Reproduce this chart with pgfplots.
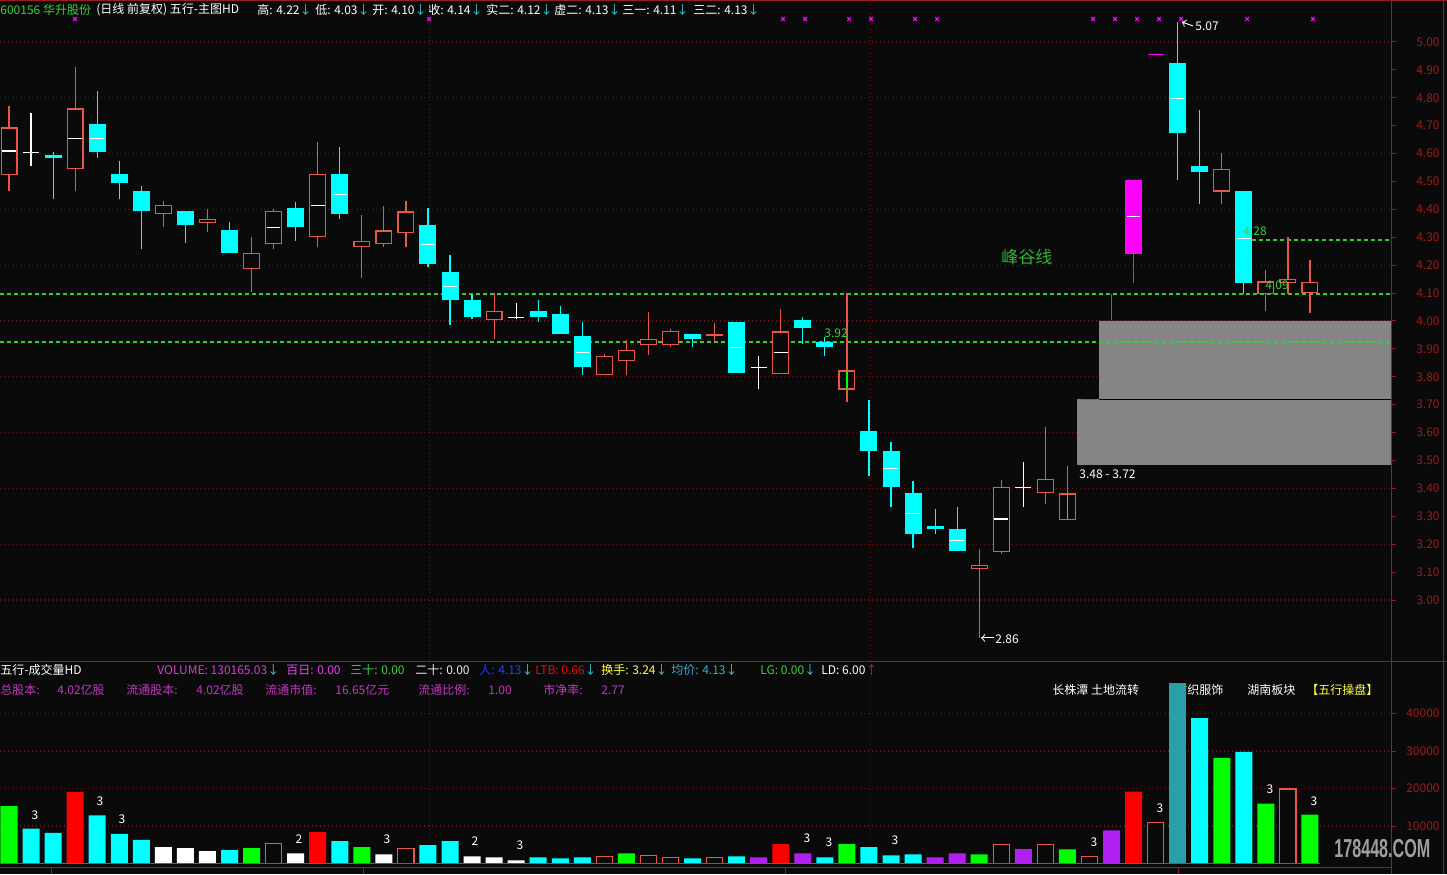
\documentclass[border=0pt]{standalone}
\usepackage{pgfplots}
\pgfplotsset{compat=1.18}
\usepackage{graphicx}
\usepackage{fontspec}
\setmainfont{Noto Sans CJK SC}
\newfontfamily\wmfont{Liberation Sans}
\definecolor{bgc}{HTML}{0A0A0A}
\definecolor{cRed}{HTML}{E8584A}
\definecolor{cCyan}{HTML}{00FFFF}
\definecolor{cMag}{HTML}{FF00FF}
\definecolor{cGreen}{HTML}{00FF00}
\definecolor{cPur}{HTML}{B020F0}
\definecolor{cTeal}{HTML}{2A9FA8}
\definecolor{cDR}{HTML}{9A1C1C}
\definecolor{cGrid}{HTML}{661818}
\definecolor{cDash}{HTML}{30D030}
\definecolor{cGray}{HTML}{858585}
\definecolor{cTxtG}{HTML}{3CD03C}
\definecolor{cTxtM}{HTML}{D040D0}
\definecolor{cTxtM2}{HTML}{C038C0}
\definecolor{cArrow}{HTML}{40D0E0}
\definecolor{cBlue}{HTML}{2040FF}
\definecolor{cYel}{HTML}{FFFF40}
\definecolor{cJun}{HTML}{40A8C8}
\definecolor{cPink}{HTML}{F040F0}
\newcommand\hf{\fontsize{6}{7}\selectfont}
\newcommand\ar{\textcolor{cArrow}{↓}}
\tikzset{
 tl/.style={anchor=west, inner sep=0pt, font=\hf},
}
\begin{document}
\begin{tikzpicture}
\fill[bgc] (0,0) rectangle (723.5pt,437pt);
\begin{scope}[x=0.5pt, y=-0.5pt, shift={(0pt,437pt)}]
% header row 1
\node[tl, text=cTxtG] at (0,10) {600156 华升股份};
\node[tl, text=white] at (96,10) {(日线 前复权) 五行-主图HD};
\node[tl, text=white] at (257,10) {高: 4.22\ar};
\node[tl, text=white] at (315,10) {低: 4.03\ar};
\node[tl, text=white] at (372,10) {开: 4.10\ar};
\node[tl, text=white] at (428,10) {收: 4.14\ar};
\node[tl, text=white] at (486,10) {实二: 4.12\ar};
\node[tl, text=white] at (554,10) {虚二: 4.13\ar};
\node[tl, text=white] at (622,10) {三一: 4.11\ar};
\node[tl, text=white] at (693,10) {三二: 4.13\ar};
% volume header
\node[tl, text=white] at (0,670) {五行-成交量HD};
\node[tl, text=cTxtM] at (157,670) {VOLUME: 130165.03\ar};
\node[tl, text=cPink] at (286,670) {百日: 0.00};
\node[tl, text=cTxtG] at (350,670) {三十: 0.00};
\node[tl, text=white!85!gray] at (415,670) {二十: 0.00};
\node[tl, text=cBlue] at (479,670) {人: 4.13\ar};
\node[tl, text=red] at (535,670) {LTB: 0.66\ar};
\node[tl, text=cYel] at (601,670) {换手: 3.24\ar};
\node[tl, text=cJun] at (671,670) {均价: 4.13\ar};
\node[tl, text=cTxtG] at (760,670) {LG: 0.00\ar};
\node[tl, text=white] at (821,670) {LD: 6.00\textcolor{red}{↑}};
\node[tl, text=cTxtM2] at (0,690) {总股本:};
\node[tl, text=cTxtM2] at (57,690) {4.02亿股};
\node[tl, text=cTxtM2] at (126,690) {流通股本:};
\node[tl, text=cTxtM2] at (196,690) {4.02亿股};
\node[tl, text=cTxtM2] at (265,690) {流通市值:};
\node[tl, text=cTxtM2] at (335,690) {16.65亿元};
\node[tl, text=cTxtM2] at (418,690) {流通比例:};
\node[tl, text=cTxtM2] at (488,690) {1.00};
\node[tl, text=cTxtM2] at (543,690) {市净率:};
\node[tl, text=cTxtM2] at (601,690) {2.77};
\node[tl, text=white] at (1052,690) {长株潭 土地流转};
\node[tl, text=white] at (1175,690) {纺织服饰};
\node[tl, text=white] at (1247,690) {湖南板块};
\node[tl, text=cYel] at (1306,690) {【五行操盘】};
\end{scope}
% ---------------- price panel
\begin{axis}[
 at={(0pt,106.5pt)}, anchor=south west, scale only axis,
 width=695.5pt, height=329.5pt,
 xmin=-0.40816, xmax=62.6757, ymin=2.78136, ymax=5.14337,
 axis line style={draw=none}, xtick=\empty,
 ytick={3.0,3.2,...,5.0}, extra y ticks={3.1,3.3,...,4.9},
 extra y tick style={grid=none},
 ytick pos=right, yticklabel pos=right,
 tick align=outside, major tick length=2.5pt,
 every tick/.style={draw=cDR, line width=0.5pt},
 ymajorgrids, major grid style={draw=cGrid, line width=0.55pt, dash pattern=on 0.55pt off 1.45pt},
 yticklabel style={font=\hf, text=cDR, anchor=east, inner sep=0pt, xshift=22pt},
 y tick label style={/pgf/number format/.cd, fixed, fixed zerofill, precision=2, assume math mode=true},
 unbounded coords=jump,
]
\draw[cGrid, line width=0.55pt, dash pattern=on 0.55pt off 1.45pt] (axis cs:19.05,2.78) -- (axis cs:19.05,5.15);
\draw[cGrid, line width=0.55pt, dash pattern=on 0.55pt off 1.45pt] (axis cs:39.05,2.78) -- (axis cs:39.05,5.15);
% gap boxes
\addplot[fill=cGray, draw=none] coordinates {(48.435,3.4839) (62.7,3.4839) (62.7,3.72) (48.435,3.72) (48.435,3.4839)};
\addplot[fill=cGray, draw=none] coordinates {(49.433,3.72) (62.7,3.72) (62.7,4.0) (49.433,4.0) (49.433,3.72)};
\addplot[black, line width=0.6pt] coordinates {(49.433,3.72) (62.7,3.72)};
% dashed level lines
\addplot[cDash, line width=0.6pt, dash pattern=on 2pt off 1.5pt] coordinates {(-0.4,4.097) (62.7,4.097)};
\addplot[cDash, line width=0.6pt, dash pattern=on 2pt off 1.5pt] coordinates {(-0.4,3.925) (62.7,3.925)};
\addplot[cDash, line width=0.6pt, dash pattern=on 2pt off 1.5pt] coordinates {(56.05,4.290) (62.7,4.290)};
% ---- up candles (hollow red): wicks
\addplot[cRed, line width=0.6pt] coordinates {
(0,4.467)(0,4.771)(0,nan) (3,4.467)(3,4.911)(3,nan) (7,4.338)(7,4.430)(7,nan) (9,4.318)(9,4.401)(9,nan)
(11,4.105)(11,4.300)(11,nan) (12,4.257)(12,4.401)(12,nan) (14,4.266)(14,4.642)(14,nan) (16,4.155)(16,4.380)(16,nan)
(17,4.266)(17,4.412)(17,nan) (18,4.266)(18,4.430)(18,nan) (22,3.937)(22,4.099)(22,nan) (27,3.805)(27,3.882)(27,nan)
(28,3.808)(28,3.932)(28,nan) (29,3.877)(29,4.032)(29,nan) (30,3.908)(30,3.971)(30,nan) (32,3.925)(32,3.993)(32,nan)
(35,3.811)(35,4.043)(35,nan) (38,3.709)(38,4.099)(38,nan) (44,2.865)(44,3.182)(44,nan) (45,3.165)(45,3.430)(45,nan)
(47,3.344)(47,3.619)(47,nan) (48,3.286)(48,3.480)(48,nan) (55,4.418)(55,4.601)(55,nan) (57,4.037)(57,4.183)(57,nan)
(58,4.096)(58,4.300)(58,nan) (59,4.030)(59,4.220)};
% up bodies outer
\addplot[cRed, line width=8.5pt] coordinates {
(0,4.524)(0,4.694)(0,nan) (3,4.544)(3,4.762)(3,nan) (7,4.382)(7,4.416)(7,nan) (9,4.352)(9,4.366)(9,nan)
(11,4.185)(11,4.244)(11,nan) (12,4.275)(12,4.394)(12,nan) (14,4.302)(14,4.526)(14,nan) (16,4.264)(16,4.286)(16,nan)
(17,4.275)(17,4.325)(17,nan) (18,4.314)(18,4.393)(18,nan) (22,4.003)(22,4.036)(22,nan) (27,3.805)(27,3.875)(27,nan)
(28,3.856)(28,3.896)(28,nan) (29,3.913)(29,3.935)(29,nan) (30,3.913)(30,3.964)(30,nan) (32,3.945)(32,3.952)(32,nan)
(35,3.811)(35,3.963)(35,nan) (38,3.754)(38,3.823)(38,nan) (44,3.112)(44,3.125)(44,nan) (45,3.173)(45,3.405)(45,nan)
(47,3.382)(47,3.434)(47,nan) (48,3.286)(48,3.382)(48,nan) (55,4.464)(55,4.544)(55,nan) (57,4.096)(57,4.142)(57,nan)
(58,4.135)(58,4.152)(58,nan) (59,4.100)(59,4.140)};
% up bodies inner (background)
\addplot[bgc, line width=7.3pt] coordinates {
(0,4.5283)(0,4.6897)(0,nan) (3,4.5483)(3,4.7577)(3,nan) (7,4.3863)(7,4.4117)(7,nan) (9,4.3563)(9,4.3617)(9,nan)
(11,4.1893)(11,4.2397)(11,nan) (12,4.2793)(12,4.3897)(12,nan) (14,4.3063)(14,4.5217)(14,nan) (16,4.2683)(16,4.2817)(16,nan)
(17,4.2793)(17,4.3207)(17,nan) (18,4.3183)(18,4.3887)(18,nan) (22,4.0073)(22,4.0317)(22,nan) (27,3.8093)(27,3.8707)(27,nan)
(28,3.8603)(28,3.8917)(28,nan) (29,3.9173)(29,3.9307)(29,nan) (30,3.9173)(30,3.9597)(30,nan)
(35,3.8153)(35,3.9587)(35,nan) (38,3.7583)(38,3.8187)(38,nan) (44,3.1163)(44,3.1207)(44,nan) (45,3.1773)(45,3.4007)(45,nan)
(47,3.3863)(47,3.4297)(47,nan) (48,3.2903)(48,3.3777)(48,nan) (55,4.4683)(55,4.5397)(55,nan) (57,4.1003)(57,4.1377)(57,nan)
(58,4.1393)(58,4.1477)(58,nan) (59,4.1043)(59,4.1357)};
% ---- down candles (cyan): wicks
\addplot[cCyan, line width=0.6pt] coordinates {
(2,4.436)(2,4.606)(2,nan) (4,4.585)(4,4.824)(4,nan) (5,4.436)(5,4.573)(5,nan) (6,4.257)(6,4.484)(6,nan)
(8,4.278)(8,4.394)(8,nan) (10,4.245)(10,4.354)(10,nan) (13,4.288)(13,4.425)(13,nan) (15,4.367)(15,4.624)(15,nan)
(19,4.195)(19,4.404)(19,nan) (20,3.987)(20,4.237)(20,nan) (21,4.006)(21,4.093)(21,nan) (24,3.998)(24,4.075)(24,nan)
(25,3.954)(25,4.054)(25,nan) (26,3.808)(26,3.995)(26,nan) (31,3.908)(31,3.953)(31,nan) (33,3.815)(33,3.996)(33,nan)
(36,3.917)(36,4.013)(36,nan) (37,3.876)(37,3.944)(37,nan) (39,3.446)(39,3.717)(39,nan) (40,3.334)(40,3.566)(40,nan)
(41,3.187)(41,3.427)(41,nan) (42,3.238)(42,3.326)(42,nan) (43,3.177)(43,3.333)(43,nan) (53,4.505)(53,5.070)(53,nan)
(54,4.418)(54,4.756)(54,nan) (56,4.096)(56,4.466)};
% down bodies
\addplot[cCyan, line width=8.5pt] coordinates {
(2,4.585)(2,4.594)(2,nan) (4,4.607)(4,4.706)(4,nan) (5,4.496)(5,4.527)(5,nan) (6,4.395)(6,4.466)(6,nan)
(8,4.345)(8,4.394)(8,nan) (10,4.245)(10,4.326)(10,nan) (13,4.338)(13,4.405)(13,nan) (15,4.385)(15,4.527)(15,nan)
(19,4.205)(19,4.344)(19,nan) (20,4.076)(20,4.176)(20,nan) (21,4.015)(21,4.075)(21,nan) (24,4.015)(24,4.036)(24,nan)
(25,3.954)(25,4.025)(25,nan) (26,3.836)(26,3.946)(26,nan) (31,3.937)(31,3.953)(31,nan) (33,3.815)(33,3.996)(33,nan)
(36,3.976)(36,4.004)(36,nan) (37,3.908)(37,3.924)(37,nan) (39,3.535)(39,3.606)(39,nan) (40,3.406)(40,3.534)(40,nan)
(41,3.237)(41,3.384)(41,nan) (42,3.254)(42,3.265)(42,nan) (43,3.177)(43,3.254)(43,nan) (53,4.675)(53,4.925)(53,nan)
(54,4.535)(54,4.556)(54,nan) (56,4.137)(56,4.466)};
% ---- doji (white crosses)
\addplot[white, line width=0.6pt] coordinates {(1,4.556)(1,4.747)(1,nan) (23,4.006)(23,4.063)(23,nan) (34,3.757)(34,3.875)(34,nan) (46,3.334)(46,3.495)};
\addplot[white, line width=8pt] coordinates {(1,4.6032)(1,4.6068)(1,nan) (23,4.0112)(23,4.0148)(23,nan) (34,3.8332)(34,3.8368)(34,nan) (46,3.4022)(46,3.4058)};
% ---- limit-up candles (magenta)
\addplot[cMag, line width=0.6pt] coordinates {(50,4.004)(50,4.096)(50,nan) (51,4.137)(51,4.241)};
\addplot[cMag, line width=8.5pt] coordinates {(51,4.241)(51,4.505)};
\addplot[cMag, line width=8pt] coordinates {(49,3.718)(49,3.722)(49,nan) (52,4.954)(52,4.958)};
% mid lines
\addplot[only marks, mark=-, mark size=3.4pt, white, mark options={line width=0.6pt}] coordinates {
(0,4.609) (3,4.655) (4,4.655) (12,4.336) (14,4.415) (15,4.454) (19,4.275) (20,4.125) (26,3.888) (33,3.906) (35,3.888) (40,3.470) (41,3.311) (43,3.214) (45,3.290) (51,4.374) (53,4.798) (56,4.296)};
\addplot[cGreen, line width=0.6pt] coordinates {(38,3.756) (38,3.821)};
\addplot[cGreen, line width=0.6pt] coordinates {(48,3.290) (48,3.379)};
% top markers
\addplot[only marks, mark=x, mark size=1.3pt, cMag, mark options={line width=0.6pt}] coordinates {
(2.993,5.0824) (19.05,5.0824) (35.10,5.0824) (36.10,5.0824) (38.10,5.0824) (39.09,5.0824) (41.09,5.0824) (42.09,5.0824) (49.16,5.0824) (50.16,5.0824) (51.16,5.0824) (52.15,5.0824) (53.15,5.0824) (56.15,5.0824) (59.14,5.0824)};
\end{axis}
% ---------------- volume panel
\begin{axis}[
 at={(0pt,4pt)}, anchor=south west, scale only axis,
 width=695.5pt, height=101.5pt,
 xmin=-0.40816, xmax=62.6757, ymin=-666.7, ymax=53466.7,
 axis line style={draw=none}, xtick=\empty,
 ytick={10000,20000,30000,40000},
 ytick pos=right, yticklabel pos=right,
 tick align=outside, major tick length=2.5pt,
 every tick/.style={draw=cDR, line width=0.5pt},
 ymajorgrids, major grid style={draw=cGrid, line width=0.55pt, dash pattern=on 0.55pt off 1.45pt},
 yticklabel style={font=\hf, text=cDR, anchor=east, inner sep=0pt, xshift=22pt},
 y tick label style={/pgf/number format/.cd, fixed, precision=0, 1000 sep={}, assume math mode=true},
 scaled y ticks=false,
]
\draw[cGrid, line width=0.55pt, dash pattern=on 0.55pt off 1.45pt] (axis cs:19.05,-700) -- (axis cs:19.05,54000);
\draw[cGrid, line width=0.55pt, dash pattern=on 0.55pt off 1.45pt] (axis cs:39.05,-700) -- (axis cs:39.05,54000);
\addplot[ybar, bar width=0.771, bar shift=0pt, fill=cGreen, draw=none] coordinates {(0,15270) (11,4090) (16,4360) (28,2730) (38,5180) (44,2450) (48,3800) (55,28160) (57,15980) (59,13060)};
\addplot[ybar, bar width=0.771, bar shift=0pt, fill=cCyan, draw=none] coordinates {(1,9270) (2,8180) (4,12820) (5,7910) (6,6270) (10,3550) (15,6000) (19,4910) (20,6000) (24,1640) (25,1360) (26,1640) (31,1360) (33,1910) (37,1640) (39,4360) (40,2180) (41,2450) (54,38750) (56,29740)};
\addplot[ybar, bar width=0.771, bar shift=0pt, fill=red, draw=none] coordinates {(3,19090) (14,8450) (35,5180) (51,19150)};
\addplot[ybar, bar width=0.771, bar shift=0pt, fill=white, draw=none] coordinates {(7,4360) (8,4090) (9,3270) (13,2730) (17,2450) (21,1910) (22,1640) (23,820)};
\addplot[ybar, bar width=0.74, bar shift=0pt, fill=bgc, draw=cRed, line width=0.6pt] coordinates {(12,5360) (18,4000) (27,1820) (29,2090) (30,1550) (32,1550) (45,5090) (47,5000) (49,1850) (52,10860) (58,19860)};
\addplot[ybar, bar width=0.771, bar shift=0pt, fill=cPur, draw=none] coordinates {(34,1640) (36,2730) (42,1640) (43,2730) (46,3820) (50,8830)};
\addplot[ybar, bar width=0.771, bar shift=0pt, fill=cTeal, draw=none] coordinates {(53,48200)};
\addplot[cPur, line width=0.7pt] coordinates {(-0.4,0) (59.45,0)};
\end{axis}
\begin{scope}[x=0.5pt, y=-0.5pt, shift={(0pt,437pt)}]
% frame
\draw[cDR, line width=0.5pt] (0,1)--(1447,1);
\draw[cDR, line width=0.5pt] (0,661.5)--(1447,661.5);
\draw[cDR, line width=0.5pt] (1391,0)--(1391,874);
\draw[cDR, line width=0.5pt] (1443,0)--(1443,874);
\draw[cDR, line width=0.5pt] (0,867)--(1391,867);
\foreach \xx in {51,363,785,1178} \draw[cDR, line width=0.5pt] (\xx,867)--(\xx,874);
% price annotations
\node[tl, text=white] at (1195,26) {5.07};
\draw[white, line width=0.5pt, ->] (1193,26)--(1182,22);
\node[tl, text=white] at (995,639) {2.86};
\draw[white, line width=0.5pt, ->] (994,638)--(981,638);
\node[tl, text=white] at (1079,474) {3.48 - 3.72};
\node[tl, text=cTxtG] at (824,333) {3.92};
\node[tl, text=cTxtG] at (1243,231) {4.28};
\node[tl, text=cTxtG] at (1265,285) {4.09};
\node[anchor=west, inner sep=0pt, text=cTxtG!85!black, font=\fontsize{8.5}{9}\selectfont] at (1001,257) {峰谷线};
% volume count labels
\foreach \xx/\yy/\t in {35/815/3, 100/801/3, 122/819/3, 299/839/2, 387/839/3, 475/841/2, 520/845/3, 807/838/3, 829/842/3, 895/840/3, 1094/842/3, 1160/808/3, 1270/789/3, 1314/801/3}
  \node[inner sep=0pt, text=white, font=\hf] at (\xx,\yy) {\t};
% watermark
\node[anchor=west, inner sep=0pt, text=gray!75!white] at (1334,849) {\scalebox{0.62}[1]{\wmfont\bfseries\fontsize{13}{13}\selectfont 178448.COM}};
\end{scope}
\pgfresetboundingbox
\path (0,0) rectangle (723.5pt,437pt);
\end{tikzpicture}
\end{document}
